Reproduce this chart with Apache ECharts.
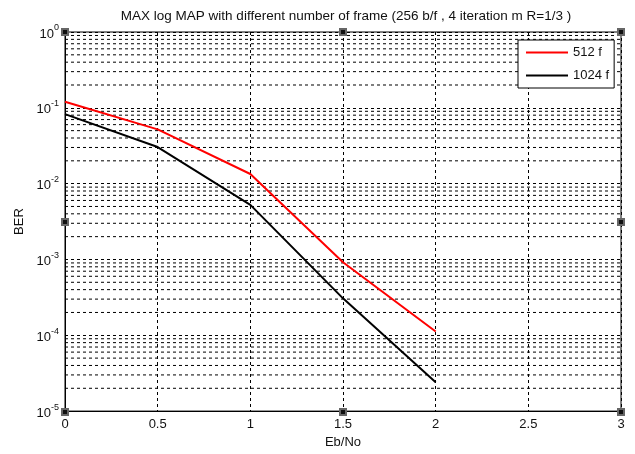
<!DOCTYPE html>
<html>
<head>
<meta charset="utf-8">
<script src="https://cdn.jsdelivr.net/npm/echarts@6/dist/echarts.min.js"></script>
<style>html,body{margin:0;padding:0;background:#fff}#c{width:635px;height:454px}</style>
</head>
<body>
<div id="c"></div>
<script>
// Eb/No points (dB) and BER for each frame count
const ebno = [0, 0.5, 1, 1.5, 2];
const ber512 = [0.12, 0.052, 0.0134, 0.00092, 0.000112];
const ber1024 = [0.0826, 0.0304, 0.00525, 0.000307, 0.000024];
const seriesNames = ['512 f', '1024 f'];
const xTicks = [0, 0.5, 1, 1.5, 2, 2.5, 3];

// minor log grid values (2..9 within each decade)
const minorGrid = [];
for (let e = -5; e < 0; e++) {
  for (let m = 2; m <= 9; m++) minorGrid.push(m * Math.pow(10, e));
}

const FONT = 'Liberation Sans, Arial, sans-serif';
const dash = { color: '#000', type: [3, 3], width: 1 };

const chart = echarts.init(document.getElementById('c'), null, { renderer: 'canvas' });

// selection handles drawn on the axes box
const L = 65, R = 621, T = 32, B = 412;
const handles = [[L, T], [(L + R) / 2, T], [R, T], [L, (T + B) / 2], [R, (T + B) / 2], [L, B], [(L + R) / 2, B], [R, B]];
const graphics = [];
handles.forEach(([x, y]) => {
  graphics.push({ type: 'rect', shape: { x: x - 4, y: y - 4, width: 8, height: 8 }, style: { fill: '#666' }, z: 100 });
  graphics.push({ type: 'rect', shape: { x: x - 2, y: y - 2, width: 4, height: 4 }, style: { fill: '#111' }, z: 101 });
});

chart.setOption({
  animation: false,
  backgroundColor: '#fff',
  title: {
    text: 'MAX log MAP with different number of frame (256 b/f , 4 iteration m R=1/3 )',
    left: 341, top: 4, textAlign: 'center',
    textStyle: { fontFamily: FONT, fontSize: 13.5, fontWeight: 'normal', color: '#111' }
  },
  grid: { left: L, right: 635 - R, top: T, bottom: 454 - B, show: true, borderColor: '#000', borderWidth: 1 },
  legend: {
    orient: 'vertical', left: 518, top: 40,
    data: seriesNames.map(n => ({ name: n, icon: 'rect' })),
    backgroundColor: '#fff', borderColor: '#000', borderWidth: 1,
    padding: [5, 5, 5, 8], itemGap: 8,
    itemWidth: 42, itemHeight: 2,
    textStyle: { fontFamily: FONT, fontSize: 13, color: '#111', lineHeight: 15 }
  },
  xAxis: {
    type: 'value', min: 0, max: 3, interval: 0.5,
    name: 'Eb/No', nameLocation: 'middle', nameGap: 22,
    nameTextStyle: { fontFamily: FONT, fontSize: 13, color: '#111' },
    axisLine: { show: true, lineStyle: { color: '#000' } },
    axisTick: { show: false },
    axisLabel: { fontFamily: FONT, fontSize: 13, color: '#111', margin: 7,
      formatter: v => xTicks.includes(v) ? String(v) : '' },
    splitLine: { show: true, lineStyle: dash }
  },
  yAxis: {
    type: 'log', logBase: 10, min: 1e-5, max: 1,
    name: 'BER', nameLocation: 'middle', nameGap: 38,
    nameTextStyle: { fontFamily: FONT, fontSize: 13, color: '#111' },
    axisLine: { show: true, lineStyle: { color: '#000' } },
    axisTick: { show: false },
    axisLabel: {
      fontFamily: FONT, color: '#111', margin: 6,
      formatter: v => '{b|10}{s|' + Math.round(Math.log10(v)) + '}',
      rich: {
        b: { fontFamily: FONT, fontSize: 13, color: '#111', verticalAlign: 'bottom' },
        s: { fontFamily: FONT, fontSize: 9, color: '#111', verticalAlign: 'top', padding: [0, 0, 8, 0] }
      }
    },
    splitLine: { show: true, lineStyle: dash }
  },
  series: [
    {
      // minor grid lines across the plot at 2..9 of each decade
      type: 'custom', silent: true, z: 1,
      data: minorGrid.map(v => [v]),
      encode: { y: 0 },
      renderItem: (params, api) => {
        const v = api.value(0);
        const p0 = api.coord([0, v]);
        const p1 = api.coord([3, v]);
        return {
          type: 'line',
          shape: { x1: p0[0], y1: p0[1], x2: p1[0], y2: p1[1] },
          style: { stroke: '#000', lineWidth: 1, lineDash: [3, 3] }
        };
      }
    },
    {
      name: seriesNames[0], type: 'line', symbol: 'none',
      data: ebno.map((x, i) => [x, ber512[i]]),
      lineStyle: { color: '#ff0000', width: 2 }, itemStyle: { color: '#ff0000' }, z: 5
    },
    {
      name: seriesNames[1], type: 'line', symbol: 'none',
      data: ebno.map((x, i) => [x, ber1024[i]]),
      lineStyle: { color: '#000', width: 2 }, itemStyle: { color: '#000' }, z: 5
    }
  ],
  graphic: graphics
});
</script>
</body>
</html>
